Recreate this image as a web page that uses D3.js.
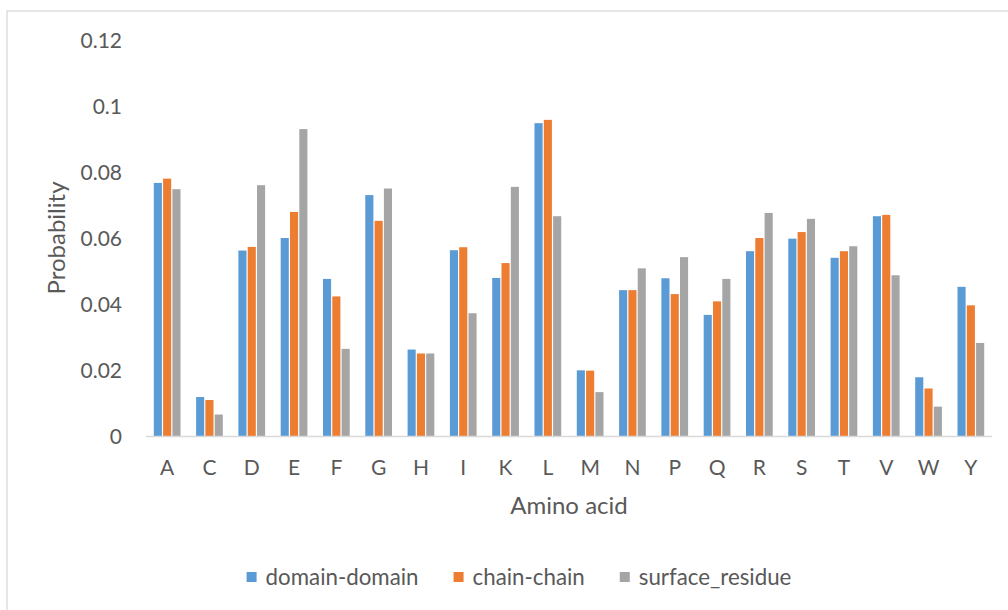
<!DOCTYPE html>
<html lang="en">
<head>
<meta charset="utf-8">
<title>Amino acid probability</title>
<script src="https://d3js.org/d3.v7.min.js"></script>
<style>
  body { margin: 0; background: #fff; }
  text { font-family: Lato, "Open Sans", sans-serif; fill: #595959; }
</style>
</head>
<body>
<div class="chart"></div>
<script>
// values
const aminoAcids = ['A','C','D','E','F','G','H','I','K','L','M','N','P','Q','R','S','T','V','W','Y'];
const seriesNames = ['domain-domain', 'chain-chain', 'surface_residue'];
const domainDomain = [0.0767,0.0118,0.0562,0.0600,0.0476,0.0730,0.0262,0.0563,0.0479,0.0948,0.0199,0.0442,0.0478,0.0367,0.0560,0.0598,0.0540,0.0666,0.0178,0.0452];
const chainChain   = [0.0780,0.0109,0.0573,0.0679,0.0423,0.0652,0.0250,0.0572,0.0524,0.0958,0.0198,0.0442,0.0430,0.0408,0.0600,0.0618,0.0560,0.0670,0.0144,0.0396];
const surfaceResidue = [0.0748,0.0065,0.0760,0.0930,0.0264,0.0750,0.0250,0.0372,0.0755,0.0666,0.0133,0.0508,0.0542,0.0476,0.0676,0.0658,0.0575,0.0487,0.0089,0.0282];
const yTicks = [0, 0.02, 0.04, 0.06, 0.08, 0.1, 0.12];
const colors = ['#5B9BD5', '#ED7D31', '#A5A5A5'];

const width = 1008;
const height = 610;
const plotLeft = 146, plotRight = 992, plotTop = 40, plotBottom = 436;

const svg = d3.select('.chart')
  .append('svg')
  .attr('width', width)
  .attr('height', height);

// chart border
svg.append('rect')
  .attr('x', 7).attr('y', 11)
  .attr('width', 1010).attr('height', 620)
  .attr('fill', 'none')
  .attr('stroke', '#d9d9d9')
  .attr('stroke-width', 1.3);

const x0 = d3.scaleBand()
  .domain(aminoAcids)
  .range([plotLeft, plotRight])
  .paddingInner(0.34)
  .paddingOuter(0.17);

const x1 = d3.scaleBand()
  .domain(seriesNames)
  .range([0, x0.bandwidth()]);

const y = d3.scaleLinear()
  .domain([0, 0.12])
  .range([plotBottom, plotTop]);

const color = d3.scaleOrdinal().domain(seriesNames).range(colors);

const rows = aminoAcids.map((a, i) => ({
  acid: a,
  values: [
    {name: seriesNames[0], value: domainDomain[i]},
    {name: seriesNames[1], value: chainChain[i]},
    {name: seriesNames[2], value: surfaceResidue[i]}
  ]
}));

// bars
svg.append('g')
  .selectAll('g')
  .data(rows)
  .join('g')
  .attr('transform', d => `translate(${x0(d.acid)},0)`)
  .selectAll('rect')
  .data(d => d.values)
  .join('rect')
  .attr('x', d => x1(d.name) + 0.6)
  .attr('y', d => y(d.value))
  .attr('width', x1.bandwidth() - 1.2)
  .attr('height', d => y(0) - y(d.value))
  .attr('fill', d => color(d.name));

// x axis line
svg.append('line')
  .attr('x1', plotLeft).attr('x2', plotRight)
  .attr('y1', y(0) + 0.5).attr('y2', y(0) + 0.5)
  .attr('stroke', '#d9d9d9')
  .attr('stroke-width', 1.3);

// x tick labels
svg.append('g')
  .selectAll('text')
  .data(aminoAcids)
  .join('text')
  .attr('x', d => x0(d) + x0.bandwidth() / 2)
  .attr('y', 475)
  .attr('text-anchor', 'middle')
  .style('font-size', '21px')
  .text(d => d);

// y tick labels
svg.append('g')
  .selectAll('text')
  .data(yTicks)
  .join('text')
  .attr('x', 122)
  .attr('y', d => y(d))
  .attr('dy', '0.36em')
  .attr('text-anchor', 'end')
  .style('font-size', '21px')
  .text(d => d3.format('')(d));

// axis titles
svg.append('text')
  .attr('x', (plotLeft + plotRight) / 2)
  .attr('y', 514)
  .attr('text-anchor', 'middle')
  .style('font-size', '24px')
  .text('Amino acid');

svg.append('text')
  .attr('transform', `translate(65,${(plotTop + plotBottom) / 2}) rotate(-90)`)
  .attr('text-anchor', 'middle')
  .style('font-size', '24px')
  .text('Probability');

// legend
const legend = svg.append('g');
const items = legend.selectAll('g')
  .data(seriesNames)
  .join('g');
items.append('rect')
  .attr('width', 10).attr('height', 10)
  .attr('y', 572)
  .attr('fill', d => color(d));
items.append('text')
  .attr('x', 19)
  .attr('y', 585)
  .style('font-size', '22.3px')
  .text(d => d);

let pos = 0;
const offsets = [];
items.each(function() {
  offsets.push(pos);
  const w = 19 + d3.select(this).select('text').node().getComputedTextLength();
  pos += w + 35;
});
const total = pos - 35;
const start = 519 - total / 2;
items.attr('transform', (d, i) => `translate(${start + offsets[i]},0)`);
</script>
</body>
</html>
